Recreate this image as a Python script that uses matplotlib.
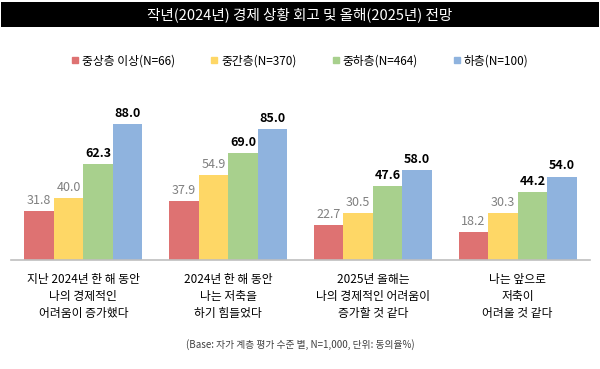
import numpy as np
import matplotlib.pyplot as plt
from matplotlib.lines import Line2D
from matplotlib.patches import Rectangle

plt.rcParams['font.family'] = ['Noto Sans CJK KR', 'DejaVu Sans']

# DATA ----------------------------------------------------------------------------------------
categories = ["지난 2024년 한 해 동안\n나의 경제적인\n어려움이 증가했다",
              "2024년 한 해 동안\n나는 저축을\n하기 힘들었다",
              "2025년 올해는\n나의 경제적인 어려움이\n증가할 것 같다",
              "나는 앞으로\n저축이\n어려울 것 같다"]
series = ["중상층 이상(N=66)", "중간층(N=370)", "중하층(N=464)", "하층(N=100)"]
upper_mid = [31.8, 37.9, 22.7, 18.2]
middle = [40.0, 54.9, 30.5, 30.3]
lower_mid = [62.3, 69.0, 47.6, 44.2]
lower = [88.0, 85.0, 58.0, 54.0]
colors = ["#DE7272", "#FED766", "#A8D08D", "#8FB3DE"]

values = [upper_mid, middle, lower_mid, lower]

# PLOT ----------------------------------------------------------------------------------------
fig = plt.figure(figsize=(6, 3.69), dpi=100)

# title bar
fig.patches.append(Rectangle((0.002, 1 - 27/369), 0.996, 25/369, transform=fig.transFigure,
                             facecolor="black", edgecolor="none", zorder=0))
fig.text(0.5, 1 - 14.5/369, "작년(2024년) 경제 상황 회고 및 올해(2025년) 전망",
         color="white", fontsize=10.5, ha="center", va="center", fontweight="medium")

ax = fig.add_axes([11/600, 109/369, 579/600, 154.5/369])
x = np.arange(len(categories))
w = 0.204
for i, (vals, c) in enumerate(zip(values, colors)):
    pos = x + (i - 1.5) * w
    ax.bar(pos, vals, width=w, color=c, edgecolor="none")
    for p, v in zip(pos, vals):
        if i < 2:
            ax.annotate(f"{v:.1f}", (p, v), xytext=(0, 3), textcoords="offset points",
                        ha="center", va="bottom", fontsize=9, color="#808080")
        else:
            ax.annotate(f"{v:.1f}", (p, v), xytext=(0, 3), textcoords="offset points",
                        ha="center", va="bottom", fontsize=9, color="black", fontweight="bold")

ax.set_xlim(-0.5, 3.5)
ax.set_ylim(0, 100)
ax.set_yticks([])
ax.set_xticks(x)
ax.set_xticklabels(categories, fontsize=8.5, linespacing=1.45)
ax.tick_params(axis="x", length=0, pad=9)
for s in ["top", "right", "left"]:
    ax.spines[s].set_visible(False)
ax.spines["bottom"].set_color("#BFBFBF")
ax.spines["bottom"].set_linewidth(1.2)

handles = [Line2D([], [], marker="s", linestyle="none", color=c, markersize=4) for c in colors]
fig.legend(handles, series, loc="center", bbox_to_anchor=(0.5, 1 - 61/369), ncol=4,
           frameon=False, fontsize=8.5, handlelength=0.6, handletextpad=0.3, columnspacing=3.0)

fig.text(0.5, 1 - 345/369, "(Base: 자가 계층 평가 수준 별, N=1,000, 단위: 동의율%)",
         ha="center", va="center", fontsize=7, color="#404040")

plt.savefig("out.png", dpi=100)
